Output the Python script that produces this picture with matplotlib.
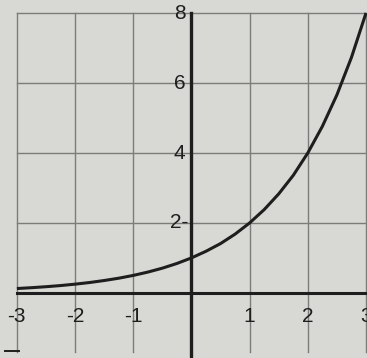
import matplotlib
matplotlib.use("Agg")
import matplotlib.pyplot as plt

# Curve y = 2^x, values read at quarter steps
xs = [-3.0, -2.75, -2.5, -2.25, -2.0, -1.75, -1.5, -1.25, -1.0, -0.75, -0.5, -0.25,
      0.0, 0.25, 0.5, 0.75, 1.0, 1.25, 1.5, 1.75, 2.0, 2.25, 2.5, 2.75, 3.0]
ys = [0.125, 0.149, 0.177, 0.21, 0.25, 0.297, 0.354, 0.42, 0.5, 0.595, 0.707, 0.841,
      1.0, 1.19, 1.41, 1.68, 2.0, 2.38, 2.83, 3.36, 4.0, 4.76, 5.66, 6.73, 8.0]

x_ticks = [-3, -2, -1, 1, 2, 3]
x_tick_labels = ["-3", "-2", "-1", "1", "2", "3"]
grid_x = [-3, -2, -1, 0, 1, 2, 3]
grid_y = [0, 2, 4, 6, 8]
y_ticks = [8, 6, 4, 2]
y_tick_labels = ["8", "6", "4", "2-"]

bg = "#d8d8d4"
ink = "#1e1e1e"
grid_col = "#7c7c7a"

fig = plt.figure(figsize=(3.67, 3.58), dpi=100, facecolor=bg)
ax = fig.add_axes([0, 0, 1, 1])
ax.set_facecolor(bg)
ax.set_xlim(-3.29, 3.017)
ax.set_ylim(-1.86, 8.37)
ax.axis("off")

# grid
for gx in grid_x:
    if gx != 0:
        ax.plot([gx, gx], [-1.68, 8], color=grid_col, lw=1.0, zorder=1)
for gy in grid_y:
    if gy != 0:
        ax.plot([-3, 3], [gy, gy], color=grid_col, lw=1.0, zorder=1)

# axes
ax.plot([-3, 3.02], [0, 0], color=ink, lw=2.2, zorder=3)
ax.plot([0, 0], [-1.8, 8], color=ink, lw=2.4, zorder=3)

# curve
ax.plot(xs, ys, color=ink, lw=2.2, zorder=4, solid_capstyle="butt")

font = dict(family=["Liberation Sans", "DejaVu Sans"], size=15, color=ink)
for t, lab in zip(x_ticks, x_tick_labels):
    ax.text(t, -0.66, lab, ha="center", va="center", zorder=5, **font)
for t, lab in zip(y_ticks, y_tick_labels):
    if lab.endswith("-"):
        ax.text(-0.06, t, lab, ha="right", va="center", zorder=5, **font)
    else:
        ax.text(-0.1, t - 0.03, lab, ha="right", va="center", zorder=5, **font)

# small stub at lower left
ax.plot([-3.2, -2.97], [-1.67, -1.67], color=ink, lw=1.4, zorder=3)

fig.savefig("out.png", dpi=100, facecolor=bg)
